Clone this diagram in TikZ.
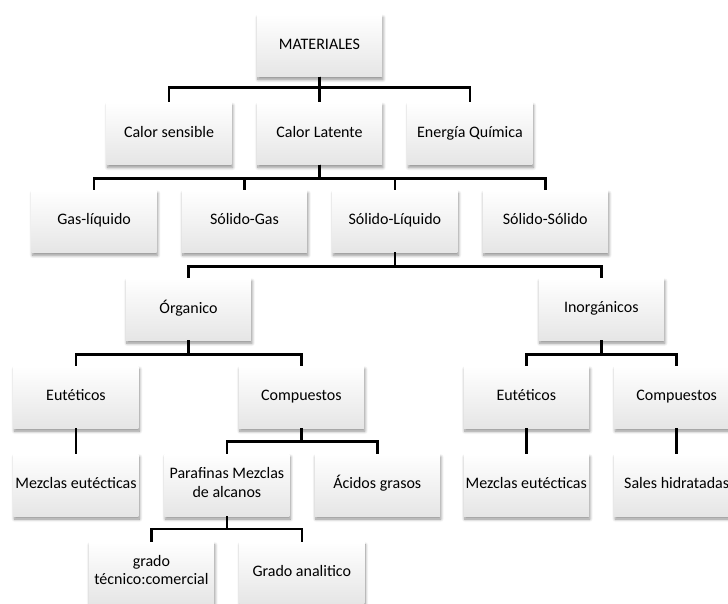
\documentclass[tikz,border=0pt]{standalone}
\usepackage{fontspec}
\setmainfont{Carlito}
\usetikzlibrary{positioning, shadows.blur}

\begin{document}
\begin{tikzpicture}[
    x=1pt, y=1pt,
    node distance=25.5pt and 25pt,
    every node/.style={font=\fontsize{16}{18.5}\selectfont},
    box/.style={align=center, minimum width=125pt, minimum height=62pt,
                inner sep=1pt, top color=white, bottom color=black!10,
                execute at begin node=\strut, execute at end node=\strut,
                blur shadow={shadow xshift=1pt, shadow yshift=-3pt,
                             shadow blur radius=3pt, shadow blur steps=8,
                             shadow opacity=45}},
    link/.style={line width=2.5pt}
]
    % page frame, MATERIALES sits at the origin
    \useasboundingbox (-319.5,45.5) rectangle ++(728,-604);

    \node[box] (mat) {MATERIALES};
    \node[box, below=of mat] (latente) {Calor Latente};
    \node[box, left=of latente] (sensible) {Calor sensible};
    \node[box, right=of latente] (quimica) {Energía Química};
    \node[box, below=of latente, xshift=-75pt] (solgas) {Sólido-Gas};
    \node[box, left=of solgas] (gasliq) {Gas-líquido};
    \node[box, right=of solgas] (solliq) {Sólido-Líquido};
    \node[box, right=of solliq] (solsol) {Sólido-Sólido};
    \node[box, below=of solgas, xshift=-56pt] (org) {Órganico};
    \node[box, below=of solsol, xshift=56pt] (inorg) {Inorgánicos};
    \node[box, below=of org, xshift=-112.5pt] (eutA) {Eutéticos};
    \node[box, right=100pt of eutA] (compA) {Compuestos};
    \node[box, below=of eutA] (mezA) {Mezclas eutécticas};
    \node[box, below=of compA, xshift=-74.5pt] (paraf)
        {Parafinas Mezclas\\de alcanos};
    \node[box, right=of paraf] (acidos) {Ácidos grasos};
    \node[box, below=of paraf, xshift=-75.5pt] (tecnico)
        {grado\\técnico:comercial};
    \node[box, right=of tecnico] (analitico) {Grado analitico};
    \node[box, below=of inorg, xshift=-75pt] (eutB) {Eutéticos};
    \node[box, right=of eutB] (compB) {Compuestos};
    \node[box, below=of eutB] (mezB) {Mezclas eutécticas};
    \node[box, below=of compB] (sales) {Sales hidratadas};

    \draw[link] (mat.south) -- ++(0,-11) -| (sensible.north);
    \draw[link] (mat.south) -- (latente.north);
    \draw[link] (mat.south) -- ++(0,-11) -| (quimica.north);
    \draw[link] (latente.south) -- ++(0,-14) -| (gasliq.north);
    \draw[link] (latente.south) -- ++(0,-14) -| (solgas.north);
    \draw[link] (latente.south) -- ++(0,-14) -| (solliq.north);
    \draw[link] (latente.south) -- ++(0,-14) -| (solsol.north);
    \draw[link] (solliq.south) -- ++(0,-14) -| (org.north);
    \draw[link] (solliq.south) -- ++(0,-14) -| (inorg.north);
    \draw[link] (org.south) -- ++(0,-14) -| (eutA.north);
    \draw[link] (org.south) -- ++(0,-14) -| (compA.north);
    \draw[link] (eutA) -- (mezA);
    \draw[link] (compA.south) -- ++(0,-13) -| (paraf.north);
    \draw[link] (compA.south) -- ++(0,-13) -| (acidos.north);
    \draw[link] (paraf.south) -- ++(0,-13) -| (tecnico.north);
    \draw[link] (paraf.south) -- ++(0,-13) -| (analitico.north);
    \draw[link] (inorg.south) -- ++(0,-14) -| (eutB.north);
    \draw[link] (inorg.south) -- ++(0,-14) -| (compB.north);
    \draw[link] (eutB) -- (mezB);
    \draw[link] (compB) -- (sales);
\end{tikzpicture}
\end{document}
